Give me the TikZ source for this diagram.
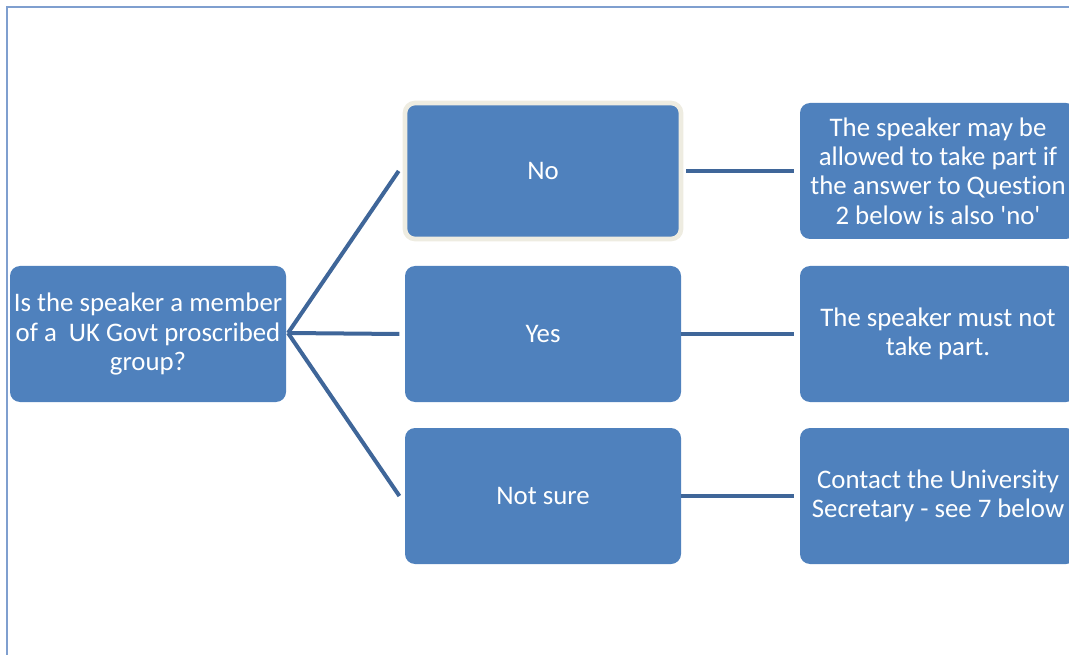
\documentclass[tikz,border=0pt]{standalone}
\usepackage{fontspec}
\setmainfont{Carlito}[Ligatures={TeXOff,NoCommon}]
\definecolor{boxblue}{HTML}{4F81BD}
\definecolor{linkblue}{HTML}{3F6699}
\definecolor{framebl}{HTML}{7F9FCF}
\definecolor{beige}{HTML}{EEECE1}
\begin{document}
\begin{tikzpicture}[x=0.75pt,y=-0.75pt,
  box/.style={fill=boxblue,rounded corners=7.5pt,minimum width=207pt,minimum height=102pt,
    inner sep=2pt,text=white,align=center,font=\fontsize{20.1}{21.9}\selectfont},
  hilite/.style={draw=beige,line width=3.5pt},
  link/.style={draw=linkblue,line width=3pt}]
\useasboundingbox (0,0) rectangle (1069,655);
\draw[framebl,line width=1.5pt] (7,655) -- (7,7) -- (1069,7);
\node[box] (q) at (148,334) {Is the speaker a member\\of a \ UK Govt proscribed\\group?};
\node[box,hilite] (no) at (543,171) {No};
\node[box] (yes) at (543,334) {Yes};
\node[box] (ns) at (543,496) {Not sure};
\node[box] (r1) at (938,171) {The speaker may be\\allowed to take part if\\the answer to Question\\2 below is also 'no'};
\node[box] (r2) at (938,334) {The speaker must not\\take part.};
\node[box] (r3) at (938,496) {Contact the University\\Secretary - see 7 below};
\coordinate (qe) at (288,333);
\draw[link] (qe) -- ([xshift=-3pt]no.west);
\draw[link] (qe) -- ([xshift=-4pt]yes.west);
\draw[link] (qe) -- ([xshift=-4pt]ns.west);
\draw[link] ([xshift=2pt]no.east) -- ([xshift=-4pt]r1.west);
\draw[link] (yes.east) -- ([xshift=-4pt]r2.west);
\draw[link] (ns.east) -- ([xshift=-4pt]r3.west);
\end{tikzpicture}
\end{document}
